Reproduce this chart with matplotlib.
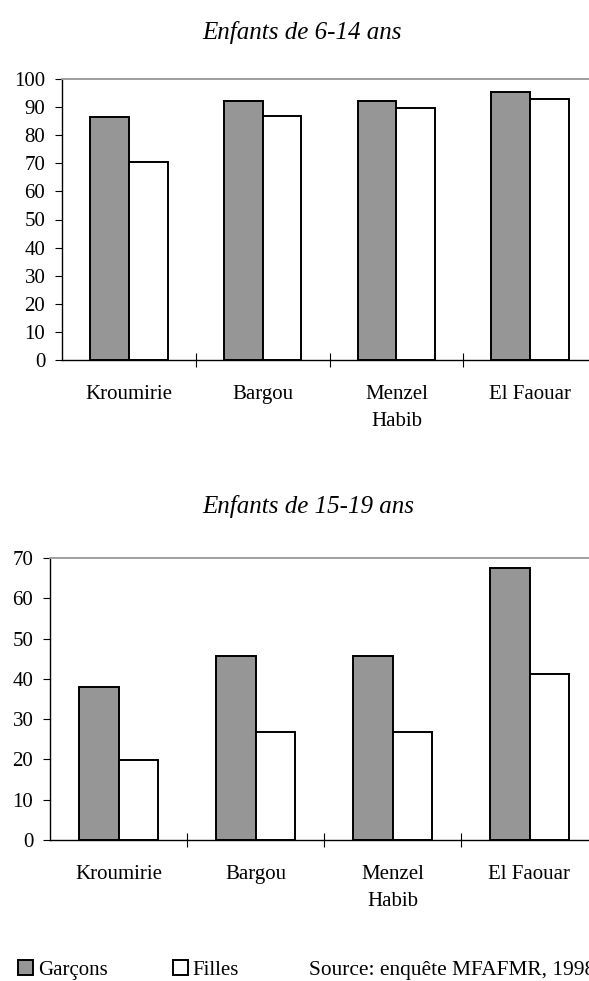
import matplotlib.pyplot as plt
import numpy as np

plt.rcParams['font.family'] = ['Liberation Serif', 'DejaVu Serif']

regions = ['Kroumirie', 'Bargou', 'Menzel\nHabib', 'El Faouar']
garcons_6_14 = [86.4, 92.0, 92.0, 95.4]
filles_6_14 = [70.6, 86.9, 89.8, 92.8]
garcons_15_19 = [37.9, 45.6, 45.6, 67.6]
filles_15_19 = [19.9, 26.8, 26.8, 41.3]

W, H = 589, 981
gray = '#969696'
fs = 15

def panel(rect, g, f, ymax):
    ax = fig.add_axes(rect)
    locs = np.arange(len(regions))
    width = 0.29
    ax.bar(locs - width/2, g, width=width, color=gray, edgecolor='black', linewidth=1.4, label='Garçons')
    ax.bar(locs + width/2, f, width=width, color='white', edgecolor='black', linewidth=1.4, label='Filles')
    ax.set_xlim(-0.5, 3.5)
    ax.set_ylim(0, ymax)
    ax.set_yticks(np.arange(0, ymax + 1, 10))
    ax.set_xticks(locs)
    ax.set_xticklabels(regions, fontsize=fs, linespacing=1.55)
    ax.set_xticks(locs[:-1] + 0.5, minor=True)
    ax.tick_params(axis='x', which='major', length=0, pad=18)
    ax.tick_params(axis='x', which='minor', length=10, width=0.8, direction='inout')
    ax.tick_params(axis='y', length=5, width=0.8, pad=7, labelsize=fs)
    ax.spines['right'].set_visible(False)
    ax.spines['top'].set_color('#999999')
    ax.spines['top'].set_linewidth(1.3)
    ax.spines['left'].set_linewidth(1.0)
    ax.spines['bottom'].set_linewidth(1.0)
    return ax

fig = plt.figure(figsize=(W/100, H/100), dpi=100)

# top panel: x 62..597, y 79..360 (pixels)
ax1 = panel([62/W, 1 - 360/H, 535/W, 281/H], garcons_6_14, filles_6_14, 100)
# bottom panel: x 50..598, y 558..840
ax2 = panel([50/W, 1 - 840/H, 548/W, 282/H], garcons_15_19, filles_15_19, 70)

fig.text(302/W, 1 - 33/H, 'Enfants de 6-14 ans', ha='center', va='center', fontsize=18, style='italic')
fig.text(308/W, 1 - 506/H, 'Enfants de 15-19 ans', ha='center', va='center', fontsize=18, style='italic')

handles, labels = ax1.get_legend_handles_labels()
fig.legend(handles, labels, loc='center left', bbox_to_anchor=(18/W, 1 - 970/H),
           ncol=2, frameon=False, fontsize=fs, borderpad=0, borderaxespad=0,
           handlelength=0.72, handleheight=0.72, handletextpad=0.25, columnspacing=3.1)
fig.text(309/W, 1 - 975/H, 'Source: enquête MFAFMR, 1998', ha='left', va='baseline', fontsize=15.4)

fig.savefig('out.png', dpi=100)
